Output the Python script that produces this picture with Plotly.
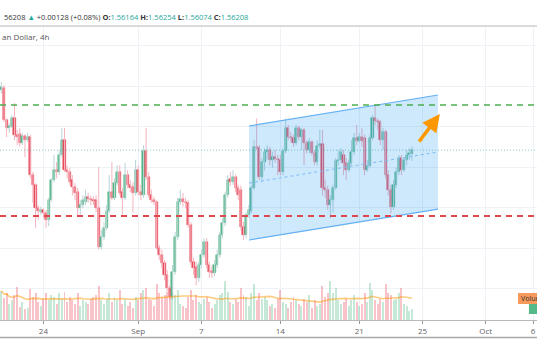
import plotly.graph_objects as go
import pandas as pd

# ---- data (4h candles, EUR/CAD-like) ----
opens = [1.5695, 1.5698, 1.5658, 1.5648, 1.5649, 1.5660, 1.5640, 1.5641, 1.5630, 1.5638,
         1.5633, 1.5637, 1.5590, 1.5578, 1.5549, 1.5544, 1.5547, 1.5543, 1.5535, 1.5559,
         1.5584, 1.5596, 1.5594, 1.5615, 1.5633, 1.5596, 1.5594, 1.5584, 1.5575, 1.5569,
         1.5549, 1.5553, 1.5557, 1.5563, 1.5560, 1.5559, 1.5559, 1.5549, 1.5501, 1.5514,
         1.5525, 1.5546, 1.5569, 1.5562, 1.5580, 1.5594, 1.5569, 1.5562, 1.5590, 1.5578,
         1.5575, 1.5568, 1.5596, 1.5569, 1.5565, 1.5620, 1.5588, 1.5565, 1.5559, 1.5557,
         1.5500, 1.5491, 1.5481, 1.5467, 1.5451, 1.5440, 1.5470, 1.5514, 1.5557, 1.5560,
         1.5557, 1.5556, 1.5528, 1.5483, 1.5477, 1.5463, 1.5479, 1.5491, 1.5507, 1.5479,
         1.5472, 1.5469, 1.5479, 1.5491, 1.5516, 1.5531, 1.5565, 1.5585, 1.5581, 1.5588,
         1.5574, 1.5572, 1.5526, 1.5516, 1.5541, 1.5546, 1.5574, 1.5625, 1.5623, 1.5588,
         1.5606, 1.5619, 1.5621, 1.5609, 1.5612, 1.5610, 1.5609, 1.5594, 1.5620, 1.5648,
         1.5637, 1.5636, 1.5630, 1.5648, 1.5637, 1.5646, 1.5630, 1.5621, 1.5631, 1.5617,
         1.5606, 1.5626, 1.5628, 1.5574, 1.5572, 1.5553, 1.5559, 1.5574, 1.5607, 1.5609,
         1.5615, 1.5605, 1.5596, 1.5605, 1.5619, 1.5636, 1.5632, 1.5637, 1.5636, 1.5596,
         1.5601, 1.5636, 1.5660, 1.5657, 1.5656, 1.5633, 1.5643, 1.5590, 1.5572, 1.5551,
         1.5578, 1.5594, 1.5611, 1.5596, 1.5609, 1.5615, 1.56164]
highs = [1.5705, 1.5701, 1.5660, 1.5654, 1.5664, 1.5679, 1.5646, 1.5648, 1.5642, 1.5640,
         1.5642, 1.5640, 1.5594, 1.5580, 1.5553, 1.5551, 1.5549, 1.5547, 1.5562, 1.5586,
         1.5615, 1.5606, 1.5621, 1.5648, 1.5648, 1.5602, 1.5599, 1.5590, 1.5580, 1.5574,
         1.5559, 1.5565, 1.5572, 1.5568, 1.5565, 1.5564, 1.5565, 1.5600, 1.5522, 1.5532,
         1.5553, 1.5590, 1.5606, 1.5586, 1.5602, 1.5602, 1.5574, 1.5605, 1.5596, 1.5584,
         1.5581, 1.5609, 1.5602, 1.5578, 1.5627, 1.5648, 1.5594, 1.5572, 1.5563, 1.5559,
         1.5504, 1.5498, 1.5485, 1.5473, 1.5454, 1.5479, 1.5520, 1.5562, 1.5572, 1.5568,
         1.5562, 1.5559, 1.5532, 1.5488, 1.5483, 1.5483, 1.5498, 1.5512, 1.5512, 1.5483,
         1.5478, 1.5485, 1.5498, 1.5520, 1.5537, 1.5569, 1.5590, 1.5594, 1.5596, 1.5591,
         1.5578, 1.5577, 1.5532, 1.5544, 1.5553, 1.5577, 1.5633, 1.5660, 1.5627, 1.5611,
         1.5623, 1.5627, 1.5625, 1.5619, 1.5621, 1.5615, 1.5615, 1.5623, 1.5660, 1.5652,
         1.5643, 1.5640, 1.5652, 1.5651, 1.5648, 1.5648, 1.5633, 1.5636, 1.5633, 1.5621,
         1.5633, 1.5646, 1.5646, 1.5584, 1.5577, 1.5565, 1.5578, 1.5611, 1.5621, 1.5623,
         1.5621, 1.5611, 1.5609, 1.5633, 1.5642, 1.5652, 1.5642, 1.5648, 1.5640, 1.5609,
         1.5640, 1.5664, 1.5677, 1.5660, 1.5658, 1.5648, 1.5646, 1.5596, 1.5578, 1.5584,
         1.5599, 1.5615, 1.5615, 1.5611, 1.5621, 1.5623, 1.56254]
lows = [1.5691, 1.5656, 1.5637, 1.5642, 1.5648, 1.5633, 1.5627, 1.5625, 1.5627, 1.5612,
        1.5631, 1.5586, 1.5556, 1.5525, 1.5535, 1.5541, 1.5537, 1.5525, 1.5527, 1.5557,
        1.5581, 1.5586, 1.5590, 1.5612, 1.5594, 1.5586, 1.5578, 1.5565, 1.5559, 1.5541,
        1.5541, 1.5549, 1.5553, 1.5556, 1.5553, 1.5553, 1.5544, 1.5498, 1.5498, 1.5510,
        1.5522, 1.5543, 1.5559, 1.5559, 1.5577, 1.5565, 1.5541, 1.5559, 1.5574, 1.5569,
        1.5544, 1.5565, 1.5565, 1.5559, 1.5562, 1.5584, 1.5562, 1.5556, 1.5553, 1.5498,
        1.5485, 1.5475, 1.5460, 1.5446, 1.5436, 1.5436, 1.5467, 1.5510, 1.5553, 1.5551,
        1.5549, 1.5525, 1.5479, 1.5467, 1.5454, 1.5458, 1.5475, 1.5488, 1.5475, 1.5463,
        1.5463, 1.5465, 1.5475, 1.5488, 1.5512, 1.5527, 1.5562, 1.5577, 1.5578, 1.5569,
        1.5559, 1.5522, 1.5510, 1.5512, 1.5537, 1.5543, 1.5572, 1.5621, 1.5584, 1.5581,
        1.5596, 1.5609, 1.5602, 1.5599, 1.5605, 1.5590, 1.5590, 1.5590, 1.5617, 1.5633,
        1.5631, 1.5625, 1.5627, 1.5633, 1.5621, 1.5602, 1.5617, 1.5617, 1.5614, 1.5602,
        1.5602, 1.5623, 1.5565, 1.5562, 1.5547, 1.5537, 1.5544, 1.5572, 1.5602, 1.5605,
        1.5590, 1.5584, 1.5594, 1.5602, 1.5615, 1.5627, 1.5630, 1.5625, 1.5590, 1.5594,
        1.5599, 1.5633, 1.5652, 1.5646, 1.5627, 1.5621, 1.5586, 1.5565, 1.5543, 1.5547,
        1.5574, 1.5590, 1.5590, 1.5594, 1.5602, 1.5609, 1.56074]
closes = [1.5699, 1.5658, 1.5648, 1.5651, 1.5660, 1.5640, 1.5637, 1.5630, 1.5638, 1.5633,
          1.5637, 1.5590, 1.5578, 1.5549, 1.5546, 1.5547, 1.5543, 1.5535, 1.5559, 1.5584,
          1.5596, 1.5594, 1.5615, 1.5633, 1.5596, 1.5594, 1.5581, 1.5575, 1.5568, 1.5549,
          1.5553, 1.5559, 1.5563, 1.5560, 1.5559, 1.5558, 1.5549, 1.5501, 1.5514, 1.5525,
          1.5546, 1.5569, 1.5562, 1.5580, 1.5594, 1.5568, 1.5562, 1.5590, 1.5578, 1.5574,
          1.5568, 1.5596, 1.5569, 1.5565, 1.5620, 1.5588, 1.5565, 1.5559, 1.5557, 1.5500,
          1.5491, 1.5481, 1.5467, 1.5451, 1.5440, 1.5470, 1.5514, 1.5557, 1.5560, 1.5557,
          1.5556, 1.5528, 1.5483, 1.5475, 1.5463, 1.5479, 1.5491, 1.5507, 1.5479, 1.5470,
          1.5469, 1.5479, 1.5491, 1.5516, 1.5531, 1.5565, 1.5584, 1.5581, 1.5588, 1.5574,
          1.5565, 1.5526, 1.5516, 1.5541, 1.5547, 1.5574, 1.5625, 1.5623, 1.5588, 1.5606,
          1.5619, 1.5621, 1.5609, 1.5612, 1.5610, 1.5609, 1.5594, 1.5620, 1.5648, 1.5637,
          1.5636, 1.5630, 1.5648, 1.5637, 1.5646, 1.5630, 1.5621, 1.5631, 1.5617, 1.5606,
          1.5626, 1.5628, 1.5574, 1.5572, 1.5553, 1.5559, 1.5574, 1.5607, 1.5609, 1.5619,
          1.5605, 1.5596, 1.5605, 1.5619, 1.5636, 1.5632, 1.5637, 1.5632, 1.5596, 1.5601,
          1.5636, 1.5660, 1.5657, 1.5656, 1.5633, 1.5643, 1.5590, 1.5572, 1.5551, 1.5578,
          1.5594, 1.5611, 1.5596, 1.5609, 1.5615, 1.5617, 1.56208]
volumes = [33, 25, 30, 18, 22, 28, 37, 15, 20, 12,
           14, 35, 26, 30, 20, 16, 24, 30, 22, 28,
           26, 18, 30, 24, 32, 20, 26, 22, 18, 30,
           16, 22, 20, 18, 24, 26, 28, 38, 22, 18,
           24, 30, 20, 26, 22, 34, 18, 24, 16, 20,
           14, 26, 22, 30, 34, 36, 24, 22, 16, 40,
           30, 26, 28, 32, 36, 30, 28, 34, 18, 16,
           14, 26, 34, 22, 28, 20, 18, 24, 26, 20,
           14, 18, 22, 28, 30, 44, 32, 20, 18, 24,
           20, 36, 28, 26, 16, 30, 40, 22, 30, 24,
           26, 22, 16, 18, 14, 24, 34, 20, 18, 14,
           20, 26, 22, 18, 16, 24, 20, 28, 14, 22,
           16, 18, 38, 26, 30, 44, 30, 36, 22, 18,
           20, 24, 16, 22, 28, 20, 16, 18, 30, 20,
           42, 34, 22, 18, 24, 20, 40, 30, 28, 22,
           24, 30, 36, 18, 16, 10, 12]

# x-axis: bar index (4h bars, weekends skipped) and date labels
tick_bars = [16, 52, 76, 106, 136, 160, 184, 202]
tick_labels = ["24", "Sep", "7", "14", "21", "25", "Oct", "6"]

# horizontal levels and drawing anchors (bar index, price)
resistance = 1.56765
support = 1.55395
last_price = closes[-1]
channel_x = [94.1, 165.9]
channel_top = [1.56506, 1.56889]
channel_bot = [1.55099, 1.55481]
channel_mid = [1.55802, 1.56185]
arrow_from = (158.3, 1.56296)
arrow_to = (166.6, 1.56654)

UP, DOWN = "#4fb583", "#e9495a"
UP_WICK, DOWN_WICK = "#b9d3d8", "#f4b4be"
UP_VOL, DOWN_VOL = "rgba(83,185,135,0.33)", "rgba(235,77,92,0.33)"

n = len(closes)
xs = list(range(n))
is_up = [c >= o for o, c in zip(opens, closes)]

fig = go.Figure()

# volume
fig.add_trace(go.Bar(x=xs, y=volumes, yaxis="y2", width=0.75,
                     marker=dict(color=[UP_VOL if u else DOWN_VOL for u in is_up], line_width=0),
                     hoverinfo="skip"))
vol_ma = pd.Series(volumes).rolling(20, min_periods=1).mean()
fig.add_trace(go.Scatter(x=xs, y=vol_ma, yaxis="y2", mode="lines",
                         line=dict(color="rgba(255,152,0,0.5)", width=1.6), hoverinfo="skip"))

# wicks
for want, col in ((True, UP_WICK), (False, DOWN_WICK)):
    wx, wy = [], []
    for i in range(n):
        if is_up[i] == want:
            wx += [i, i, None]
            wy += [lows[i], highs[i], None]
    fig.add_trace(go.Scatter(x=wx, y=wy, mode="lines", line=dict(color=col, width=1),
                             hoverinfo="skip"))

# bodies
fig.add_trace(go.Bar(x=xs, base=[min(o, c) for o, c in zip(opens, closes)],
                     y=[abs(c - o) for o, c in zip(opens, closes)], width=0.8,
                     marker=dict(color=[UP if u else DOWN for u in is_up],
                                 line=dict(color=[UP if u else DOWN for u in is_up], width=0.5)),
                     hoverinfo="skip"))

shapes = []
# channel
shapes.append(dict(type="path", xref="x", yref="y", layer="above",
                   path=f"M {channel_x[0]},{channel_top[0]} L {channel_x[1]},{channel_top[1]} "
                        f"L {channel_x[1]},{channel_bot[1]} L {channel_x[0]},{channel_bot[0]} Z",
                   fillcolor="rgba(33,150,243,0.22)", line=dict(width=0)))
shapes.append(dict(type="line", xref="x", yref="y", layer="above",
                   x0=channel_x[0], x1=channel_x[1], y0=channel_top[0], y1=channel_top[1],
                   line=dict(color="#64b0f4", width=1.2)))
shapes.append(dict(type="line", xref="x", yref="y", layer="above",
                   x0=channel_x[0], x1=channel_x[1], y0=channel_bot[0], y1=channel_bot[1],
                   line=dict(color="#64b0f4", width=1.2)))
shapes.append(dict(type="line", xref="x", yref="y", layer="above",
                   x0=channel_x[0], x1=channel_x[1], y0=channel_mid[0], y1=channel_mid[1],
                   line=dict(color="#7dbcf5", width=1, dash="3px,3px")))
# horizontal levels
shapes.append(dict(type="line", xref="paper", yref="y", x0=0, x1=1, y0=resistance, y1=resistance,
                   line=dict(color="#4caf50", width=1.5, dash="6px,5px"), layer="above"))
shapes.append(dict(type="line", xref="paper", yref="y", x0=0, x1=1, y0=support, y1=support,
                   line=dict(color="#e04850", width=1.8, dash="6px,5px"), layer="above"))
shapes.append(dict(type="line", xref="paper", yref="y", x0=0, x1=1, y0=last_price, y1=last_price,
                   line=dict(color="rgba(38,166,154,0.55)", width=1, dash="1px,2px"), layer="above"))
# frame lines
shapes.append(dict(type="line", xref="paper", yref="paper", x0=0, x1=1, y0=1.0034, y1=1.0034,
                   line=dict(color="#b5b5b5", width=1)))
shapes.append(dict(type="line", xref="paper", yref="paper", x0=0, x1=1, y0=-0.0597, y1=-0.0597,
                   line=dict(color="#a8a8a8", width=1.3)))
# volume scale labels (cut at right edge, as in the screenshot)
shapes.append(dict(type="rect", xref="paper", yref="paper", x0=0.9646, x1=1.08, y0=0.0546, y1=0.0922,
                   fillcolor="#f79a5c", line=dict(width=0)))
shapes.append(dict(type="rect", xref="paper", yref="paper", x0=0.985, x1=1.08, y0=0.0205, y1=0.0546,
                   fillcolor="#53b987", line=dict(width=0)))

teal = "#26a69a"
header = (f"56208 <span style='color:{teal}'>▲</span> +0.00128 (+0.08%) "
          f"<b>O:</b><span style='color:{teal}'>1.56164</span> "
          f"<b>H:</b><span style='color:{teal}'>1.56254</span> "
          f"<b>L:</b><span style='color:{teal}'>1.56074</span> "
          f"<b>C:</b><span style='color:{teal}'>1.56208</span>")

annotations = [
    dict(text=header, xref="paper", yref="paper", x=0.004, y=1.034, xanchor="left", yanchor="middle",
         showarrow=False, font=dict(size=7.5, color="#333333")),
    dict(text="an Dollar, 4h", xref="paper", yref="paper", x=0.0, y=0.966, xanchor="left",
         yanchor="middle", showarrow=False, font=dict(size=8, color="#555555")),
    dict(text="", x=arrow_to[0], y=arrow_to[1], ax=arrow_from[0], ay=arrow_from[1],
         xref="x", yref="y", axref="x", ayref="y", showarrow=True, arrowhead=2,
         arrowsize=1, arrowwidth=3.5, arrowcolor="#ff9800", standoff=0),
    dict(text="Volume", xref="paper", yref="paper", x=0.967, y=0.0734, xanchor="left",
         yanchor="middle", showarrow=False, font=dict(size=7, color="#333333")),
]

fig.update_layout(
    width=537, height=360,
    margin=dict(l=0, r=0, t=27, b=40),
    paper_bgcolor="white", plot_bgcolor="white",
    showlegend=False, barmode="overlay", bargap=0,
    font=dict(family="Open Sans, Liberation Sans, sans-serif", size=8, color="#555555"),
    xaxis=dict(range=[-0.5, 203.5], tickmode="array", tickvals=tick_bars, ticktext=tick_labels,
               showgrid=True, gridcolor="#eef1f6", gridwidth=1, zeroline=False,
               showline=True, linecolor="#b8b8b8", linewidth=1,
               ticks="outside", ticklen=3, tickcolor="#999999",
               tickfont=dict(size=8, color="#666666")),
    yaxis=dict(range=[1.5411111, 1.5772840], tick0=1.545, dtick=0.005,
               showgrid=True, gridcolor="#eef1f6", gridwidth=1, zeroline=False,
               showticklabels=False, showline=False),
    yaxis2=dict(overlaying="y", range=[0, 330], visible=False, showgrid=False),
    shapes=shapes, annotations=annotations,
)

fig.write_html("out.html", config={"displayModeBar": False},
               post_script="document.body.style.margin='0';document.body.style.overflow='hidden';")
